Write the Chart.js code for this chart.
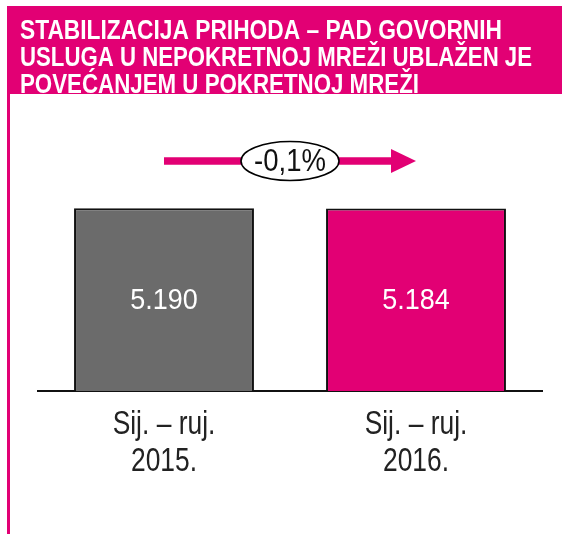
<!DOCTYPE html>
<html>
<head>
<meta charset="utf-8">
<script src="https://cdn.jsdelivr.net/npm/chart.js@4.4.1/dist/chart.umd.min.js"></script>
<style>
  html, body { margin: 0; padding: 0; background: #fff; }
  #wrap { width: 562px; height: 534px; position: relative; }
</style>
</head>
<body>
<div id="wrap"><canvas id="c" width="562" height="534"></canvas></div>
<script>
const titleLines = [
  "STABILIZACIJA PRIHODA – PAD GOVORNIH",
  "USLUGA U NEPOKRETNOJ MREŽI UBLAŽEN JE",
  "POVEĆANJEM U POKRETNOJ MREŽI"
];
const categories = [["Sij. – ruj.", "2015."], ["Sij. – ruj.", "2016."]];
const revenue = [5190, 5184];
const valueLabels = ["5.190", "5.184"];
const changeLabel = "-0,1%";

const MAGENTA = "#E20074";
const GREY = "#6B6B6B";
const SANS = "'Liberation Sans', Arial, sans-serif";

// narrow the glyphs horizontally, the original uses a condensed face
function squeezed(ctx, text, x, y, sx) {
  ctx.save();
  ctx.translate(x, y);
  ctx.scale(sx, 1);
  ctx.fillText(text, 0, 0);
  ctx.restore();
}

function fitText(ctx, text, x, y, targetW) {
  squeezed(ctx, text, x, y, targetW / ctx.measureText(text).width);
}

const decorations = {
  id: "decorations",
  beforeDraw(chart) {
    const ctx = chart.ctx;
    ctx.save();
    // header banner + left rule
    ctx.fillStyle = MAGENTA;
    ctx.fillRect(7, 6, 555, 88);
    ctx.fillRect(7, 94, 3, 440);
    ctx.fillStyle = "#fff";
    ctx.font = "bold 27px " + SANS;
    ctx.textAlign = "left";
    ctx.textBaseline = "alphabetic";
    const widths = [482, 512, 399];
    titleLines.forEach((t, i) => fitText(ctx, t, 20, 39 + i * 27, widths[i]));
    ctx.restore();
  },
  afterDraw(chart) {
    const ctx = chart.ctx;
    const xs = chart.scales.x;
    const bars = chart.getDatasetMeta(0).data;
    ctx.save();

    // category labels under the baseline
    ctx.fillStyle = "#222";
    ctx.font = "33px " + SANS;
    ctx.textAlign = "center";
    ctx.textBaseline = "alphabetic";
    categories.forEach((lines, i) => {
      const x = xs.getPixelForValue(i);
      lines.forEach((t, j) => squeezed(ctx, t, x, chart.chartArea.bottom + 43 + j * 37, 0.8));
    });

    // values inside bars
    ctx.fillStyle = "#fff";
    ctx.font = "29px " + SANS;
    ctx.textBaseline = "middle";
    bars.forEach((b, i) => {
      squeezed(ctx, valueLabels[i], b.x, (b.y + b.base) / 2 + 1, 0.93);
    });

    // change arrow
    const y = 161;
    const x0 = bars[0].x;
    const x1 = bars[1].x;
    ctx.strokeStyle = MAGENTA;
    ctx.lineWidth = 7.5;
    ctx.beginPath();
    ctx.moveTo(x0, y);
    ctx.lineTo(x1 - 24, y);
    ctx.stroke();
    ctx.fillStyle = MAGENTA;
    ctx.beginPath();
    ctx.moveTo(x1 - 25, y - 12);
    ctx.lineTo(x1, y);
    ctx.lineTo(x1 - 25, y + 12);
    ctx.closePath();
    ctx.fill();

    const cx = 290;
    ctx.fillStyle = "#fff";
    ctx.strokeStyle = "#000";
    ctx.lineWidth = 1.6;
    ctx.beginPath();
    ctx.ellipse(cx, y, 49, 19.5, 0, 0, Math.PI * 2);
    ctx.fill();
    ctx.stroke();
    ctx.fillStyle = "#111";
    ctx.font = "32px " + SANS;
    squeezed(ctx, changeLabel, cx, y + 1, 0.86);
    ctx.restore();
  }
};

new Chart(document.getElementById("c"), {
  type: "bar",
  data: {
    labels: categories,
    datasets: [{
      data: revenue,
      backgroundColor: [GREY, MAGENTA],
      borderColor: "#111",
      borderWidth: 2,
      borderSkipped: "bottom",
      barPercentage: 0.714,
      categoryPercentage: 1.0
    }]
  },
  options: {
    responsive: false,
    animation: false,
    layout: { padding: { left: 38, right: 20, top: 127, bottom: 135 } },
    plugins: {
      legend: { display: false },
      tooltip: { enabled: false }
    },
    scales: {
      y: { display: false, min: 0, max: 7500 },
      x: {
        grid: { display: false },
        border: { display: true, color: "#111", width: 2 },
        ticks: { display: false }
      }
    }
  },
  plugins: [decorations]
});
</script>
</body>
</html>
